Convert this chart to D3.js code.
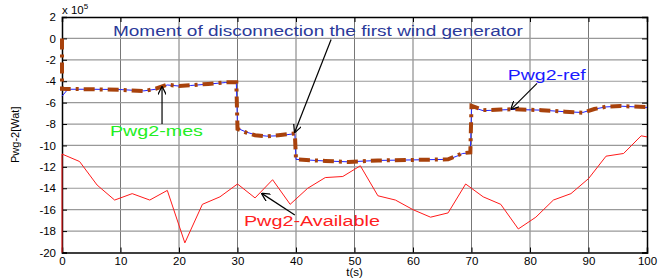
<!DOCTYPE html>
<html>
<head>
<meta charset="utf-8">
<script src="https://cdn.jsdelivr.net/npm/d3@7"></script>
<style>
  body { margin: 0; background: #fff; }
  text { font-family: "Liberation Sans", Arial, sans-serif; }
</style>
</head>
<body>
<div id="chart"></div>
<script>
/* values in units of 1e5 W */
var xTicks = [0, 10, 20, 30, 40, 50, 60, 70, 80, 90, 100];
var yTicks = [2, 0, -2, -4, -6, -8, -10, -12, -14, -16, -18, -20];

var availT = [0, 0, 3, 6, 9, 12, 15, 18, 21, 24, 27, 30, 33, 36, 39, 42, 45, 48, 51, 54, 57, 60, 63, 66, 69, 72, 75, 78, 81, 84, 87, 90, 93, 96, 99, 100];
var availP = [-20, -10.8, -11.5, -13.7, -15.1, -14.5, -15.1, -14.2, -19.1, -15.5, -14.8, -13.6, -14.9, -13.2, -15.5, -14.0, -13.0, -12.9, -11.9, -14.7, -15.1, -16.0, -16.7, -16.3, -13.6, -14.8, -15.5, -17.8, -16.7, -15.1, -14.5, -13.1, -11.0, -10.75, -9.1, -9.2];

var refT = [0, 1, 5, 10, 14, 16, 18, 20, 22, 25, 28, 29.8, 30, 31.5, 33, 35, 37, 39.8, 40, 45, 49, 54, 60, 66, 67.5, 68.5, 69.8, 70, 72, 75, 77, 82, 86, 89, 91, 93, 95.5, 100];
var refP = [-5.4, -4.75, -4.75, -4.78, -4.9, -4.75, -4.35, -4.45, -4.4, -4.27, -4.12, -4.12, -8.4, -8.75, -9.0, -9.13, -9.1, -8.9, -11.3, -11.45, -11.53, -11.4, -11.35, -11.3, -11.0, -10.75, -10.7, -6.4, -6.75, -6.68, -6.64, -6.7, -6.85, -6.92, -6.6, -6.4, -6.33, -6.45];

var mesT = [0, 0, 1, 5, 10, 14, 16, 18, 20, 22, 25, 28, 29.8, 30, 31.5, 33, 35, 37, 39.8, 40, 45, 49, 54, 60, 66, 67.5, 68.5, 69.8, 70, 72, 75, 77, 82, 86, 89, 91, 93, 95.5, 100];
var mesP = [0, -4.7, -4.72, -4.75, -4.8, -4.92, -4.7, -4.32, -4.45, -4.38, -4.25, -4.1, -4.1, -8.45, -8.8, -9.05, -9.15, -9.05, -8.88, -11.3, -11.45, -11.55, -11.4, -11.35, -11.3, -10.95, -10.72, -10.65, -6.3, -6.7, -6.65, -6.62, -6.7, -6.85, -6.95, -6.6, -6.38, -6.32, -6.42];

var W = 663, H = 279;
var margin = { top: 17, right: 16, bottom: 26.5, left: 62 },
    width = W - margin.left - margin.right,
    height = H - margin.top - margin.bottom;

var svg = d3.select("#chart")
            .append("svg")
            .attr("width", W)
            .attr("height", H);

var defs = svg.append("defs");
defs.append("marker")
    .attr("id", "arrow")
    .attr("viewBox", "0 0 10 10")
    .attr("refX", 9).attr("refY", 5)
    .attr("markerWidth", 7).attr("markerHeight", 7)
    .attr("orient", "auto")
    .append("path")
    .attr("d", "M0,0 L10,5 L0,10")
    .attr("fill", "none")
    .attr("stroke", "#000")
    .attr("stroke-width", 1.5);

var g = svg.append("g")
           .attr("transform", "translate(" + margin.left + "," + margin.top + ")");

var x = d3.scaleLinear().domain([0, 100]).range([0, width]);
var y = d3.scaleLinear().domain([-20, 2]).range([height, 0]);

/* grid */
g.selectAll(".vgrid")
 .data(xTicks.slice(1, -1))
 .enter().append("line")
 .attr("x1", function (d) { return x(d); })
 .attr("x2", function (d) { return x(d); })
 .attr("y1", 0).attr("y2", height)
 .style("stroke", "#777").style("stroke-width", 1);

g.selectAll(".hgrid")
 .data(yTicks.slice(1, -1))
 .enter().append("line")
 .attr("x1", 0).attr("x2", width)
 .attr("y1", function (d) { return y(d); })
 .attr("y2", function (d) { return y(d); })
 .style("stroke", "#999").style("stroke-width", 1.2);

/* axes */
g.append("g")
  .attr("transform", "translate(0," + height + ")")
  .call(d3.axisBottom(x).tickValues(xTicks).tickSize(-5).tickPadding(4));
g.append("g")
  .call(d3.axisLeft(y).tickValues(yTicks).tickSize(-5).tickPadding(6)
        .tickFormat(function (d) { return d < 0 ? "-" + Math.abs(d) : d; }));
g.append("g")
  .call(d3.axisTop(x).tickValues(xTicks).tickSize(-5).tickFormat(""));
g.append("g")
  .attr("transform", "translate(" + width + ",0)")
  .call(d3.axisRight(y).tickValues(yTicks).tickSize(-5).tickFormat(""));

g.selectAll(".domain").style("stroke", "#000").style("stroke-width", 1.5);
g.selectAll(".tick line").style("stroke", "#000");
g.selectAll(".tick text")
 .style("font-size", "11.5px")
 .style("fill", "#000")
 .style("font-family", "'Liberation Sans', Arial, sans-serif");

/* lines */
var line = d3.line()
  .x(function (d) { return x(d[0]); })
  .y(function (d) { return y(d[1]); });

g.append("path")
 .datum(d3.zip(availT, availP))
 .attr("d", line)
 .style("fill", "none")
 .style("stroke", "#ff1a1a")
 .style("stroke-width", 1);

g.append("path")
 .datum(d3.zip(refT, refP))
 .attr("d", line)
 .style("fill", "none")
 .style("stroke", "#2222ff")
 .style("stroke-width", 1);

g.append("path")
 .datum(d3.zip(mesT, mesP))
 .attr("d", line)
 .style("fill", "none")
 .style("stroke", "#a8420c")
 .style("stroke-width", 4)
 .style("stroke-dasharray", "11,5,3,5");

/* annotations */
function arrow(x1, y1, x2, y2) {
  g.append("line")
   .attr("x1", x(x1)).attr("y1", y(y1))
   .attr("x2", x(x2)).attr("y2", y(y2))
   .style("stroke", "#000").style("stroke-width", 1.2)
   .attr("marker-end", "url(#arrow)");
}

g.append("text")
 .attr("x", x(8.7)).attr("y", y(0.2))
 .attr("textLength", 410).attr("lengthAdjust", "spacingAndGlyphs")
 .style("font-size", "14px").style("fill", "#2b3a9a")
 .text("Moment of disconnection the first wind generator");
arrow(46.0, -0.1, 39.8, -8.75);

g.append("text")
 .attr("x", x(76.2)).attr("y", y(-3.9))
 .attr("textLength", 78).attr("lengthAdjust", "spacingAndGlyphs")
 .style("font-size", "14px").style("fill", "#1a1aff")
 .text("Pwg2-ref");
arrow(81.2, -4.2, 76.8, -6.6);

g.append("text")
 .attr("x", x(8.2)).attr("y", y(-9.1))
 .attr("textLength", 93).attr("lengthAdjust", "spacingAndGlyphs")
 .style("font-size", "14px").style("fill", "#22ee22")
 .text("Pwg2-mes");
arrow(17.1, -8.0, 17.1, -4.55);

g.append("text")
 .attr("x", x(31.1)).attr("y", y(-17.5))
 .attr("textLength", 136).attr("lengthAdjust", "spacingAndGlyphs")
 .style("font-size", "14px").style("fill", "#ff2020")
 .text("Pwg2-Available");
arrow(39.8, -16.5, 34.2, -14.5);

/* labels */
svg.append("text")
   .attr("x", margin.left + x(50)).attr("y", 276)
   .attr("text-anchor", "middle")
   .style("font-size", "11.5px")
   .text("t(s)");

svg.append("text")
   .attr("transform", "translate(19," + (margin.top + y(-9)) + ") rotate(-90)")
   .attr("text-anchor", "middle")
   .style("font-size", "11px")
   .text("Pwg-2[Wat]");

var sci = svg.append("text")
   .attr("x", margin.left).attr("y", 14)
   .style("font-size", "11.5px");
sci.append("tspan").text("x 10");
sci.append("tspan").attr("dy", -5).style("font-size", "8px").text("5");
</script>
</body>
</html>
